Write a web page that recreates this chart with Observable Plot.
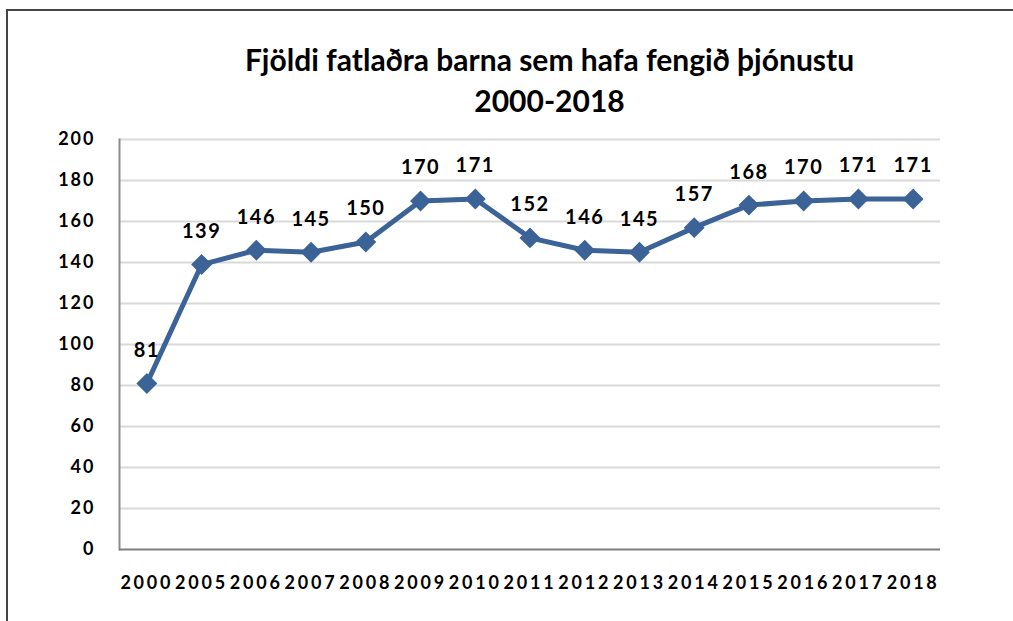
<!DOCTYPE html>
<html>
<head>
<meta charset="utf-8">
<script src="https://cdn.jsdelivr.net/npm/d3@7"></script>
<script src="https://cdn.jsdelivr.net/npm/@observablehq/plot@0.6"></script>
<style>
  html, body { margin: 0; padding: 0; background: #fff; width: 1013px; height: 621px; overflow: hidden; }
  .frame { position: absolute; left: 6px; top: 9px; width: 1100px; height: 700px; border: 2px solid #444; box-sizing: border-box; z-index: 5; pointer-events: none; }
  .wrap { position: absolute; left: 0; top: 0; width: 1013px; }
  .title { height: 120px; box-sizing: border-box; padding-top: 39px; text-align: center; font-family: Lato, "Open Sans", sans-serif; font-weight: bold; font-size: 30px; line-height: 41px; color: #000; padding-left: 86px; }
  .title div { margin: 0; }
  svg { display: block; }
  #chart g[aria-label="x-axis tick label"] text { letter-spacing: 2.8px; }
  #chart g[aria-label="y-axis tick label"] text { letter-spacing: 2px; }
  #chart g[aria-label="text"] text { letter-spacing: 1.5px; }
</style>
</head>
<body>
<div class="frame"></div>
<div class="wrap">
  <div class="title"><div>Fjöldi fatlaðra barna sem hafa fengið þjónustu</div><div>2000-2018</div></div>
  <div id="chart"></div>
</div>
<script>
const years = ["2000","2005","2006","2007","2008","2009","2010","2011","2012","2013","2014","2015","2016","2017","2018"];
const values = [81,139,146,145,150,170,171,152,146,145,157,168,170,171,171];
const yTicks = [0,20,40,60,80,100,120,140,160,180,200];

const data = years.map((y, i) => ({year: y, value: values[i]}));
const blue = "#3B6397";

const chart = Plot.plot({
  width: 1013,
  height: 501,
  marginLeft: 119,
  marginRight: 73,
  marginTop: 19,
  marginBottom: 72,
  style: { fontFamily: "Lato, 'Open Sans', sans-serif", background: "transparent", overflow: "visible" },
  x: { type: "band", domain: years, padding: 0, round: false, label: null },
  y: { domain: [0, 200], label: null },
  marks: [
    Plot.ruleY(yTicks.filter(d => d > 0), { stroke: "#d9d9d9", strokeWidth: 2 }),
    Plot.frame({ anchor: "left", stroke: "#8c8c8c", strokeWidth: 2 }),
    Plot.ruleY([0], { stroke: "#7f7f7f", strokeWidth: 2 }),
    Plot.axisY({ ticks: yTicks, tickSize: 0, tickPadding: 24, fontSize: 18, fontWeight: "bold", fill: "#000", label: null }),
    Plot.axisX({ tickSize: 0, tickPadding: 27, fontSize: 18, fontWeight: "bold", fill: "#000", label: null }),
    Plot.line(data, { x: "year", y: "value", stroke: blue, strokeWidth: 5, strokeLinejoin: "round" }),
    Plot.dot(data, { x: "year", y: "value", symbol: "square", r: 7.5, fill: blue, stroke: blue, rotate: 45 }),
    Plot.text(data, { x: "year", y: "value", text: d => String(d.value), dy: -33, fontSize: 20, fontWeight: "bold", fill: "#000" })
  ]
});
document.getElementById("chart").appendChild(chart);
</script>
</body>
</html>
